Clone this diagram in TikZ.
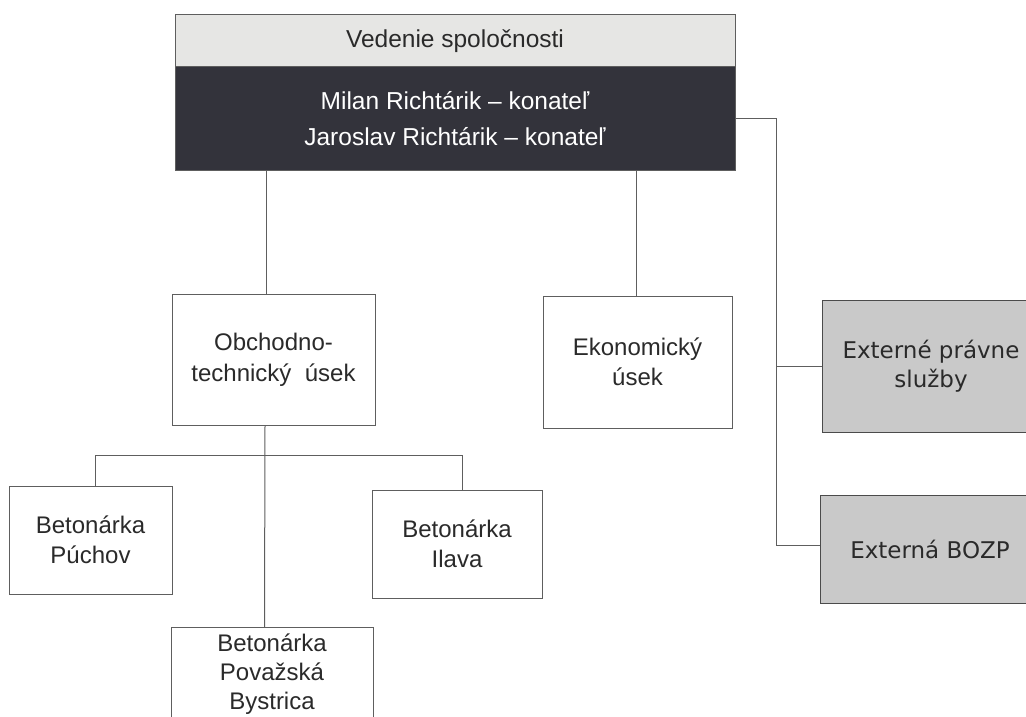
\documentclass[tikz,border=0pt]{standalone}
\usepackage{fontspec}
\setmainfont{Liberation Sans}
\newfontfamily\extfont{DejaVu Sans}
\definecolor{linegray}{HTML}{5E5E5E}
\definecolor{lightband}{HTML}{E6E6E4}
\definecolor{darkband}{HTML}{33333B}
\definecolor{extfill}{HTML}{C9C9C9}
\definecolor{txt}{HTML}{2A2A2A}
\begin{document}
\begin{tikzpicture}[x=1pt,y=-1pt,
  box/.style={draw=linegray, line width=1pt, fill=white, align=center,
    font=\fontsize{24}{30.5}\selectfont, text=txt, inner sep=0pt},
  extbox/.style={box, fill=extfill, draw=linegray!80!black,
    font=\extfont\fontsize{23}{29}\selectfont},
  conn/.style={draw=linegray, line width=1pt}]
\useasboundingbox (0,0) rectangle (1026,717);
\fill[white] (0,0) rectangle (1026,717);
\clip (0,0) rectangle (1026,717);

% top management
\node[box, fill=lightband, minimum width=560, minimum height=52,
  font=\fontsize{24.5}{30}\selectfont] (vedenie) at (455,41) {Vedenie spoločnosti};
\node[box, fill=darkband, text=white, minimum width=560, minimum height=103,
  font=\fontsize{24.5}{36}\selectfont] (konatelia) at (455,118.5)
  {Milan Richtárik -- konateľ\\Jaroslav Richtárik -- konateľ};

% departments
\node[box, minimum width=203, minimum height=131] (obchod) at (273.5,360)
  {Obchodno-\\technický \ úsek};
\node[box, minimum width=189, minimum height=132] (ekon) at (637.5,362)
  {Ekonomický\\úsek};
\node[extbox, minimum width=218, minimum height=132] (pravne) at (931,366)
  {Externé právne\\služby};
\node[extbox, minimum width=220, minimum height=108] (bozp) at (930,549.5)
  {Externá BOZP};

% plants
\node[box, minimum width=163, minimum height=108] (puchov) at (90.5,540)
  {Betonárka\\Púchov};
\node[box, minimum width=170, minimum height=108] (ilava) at (457,544)
  {Betonárka\\Ilava};
\node[box, minimum width=202, minimum height=140, anchor=north] (bystrica) at (272,627) {};
\node[align=center, anchor=north, inner sep=0pt, text=txt,
  font=\fontsize{24}{29}\selectfont] (bystricatext) at ([yshift=-7]bystrica.north)
  {Betonárka\\Považská\\Bystrica};

% connectors
\coordinate (busy) at (0,455);
\coordinate (rtop) at (776.5,118.5);
\draw[conn] ([xshift=-7]konatelia.south -| obchod.north) -- ([xshift=-7]obchod.north);
\draw[conn] ([xshift=-1.5]konatelia.south -| ekon.north) -- ([xshift=-1.5]ekon.north);
\draw[conn] (konatelia.east) -- (rtop) |- ([yshift=4.5]bozp.west);
\draw[conn] (rtop |- pravne.west) -- (pravne.west);
\draw[conn] ([xshift=-8.5]obchod.south) -- ([xshift=-7.5]bystrica.north);
\draw[conn] ([xshift=4.5]puchov.north) -- ([xshift=4.5]puchov.north |- busy)
  -- ([xshift=5]ilava.north |- busy) -- ([xshift=5]ilava.north);
\end{tikzpicture}
\end{document}
